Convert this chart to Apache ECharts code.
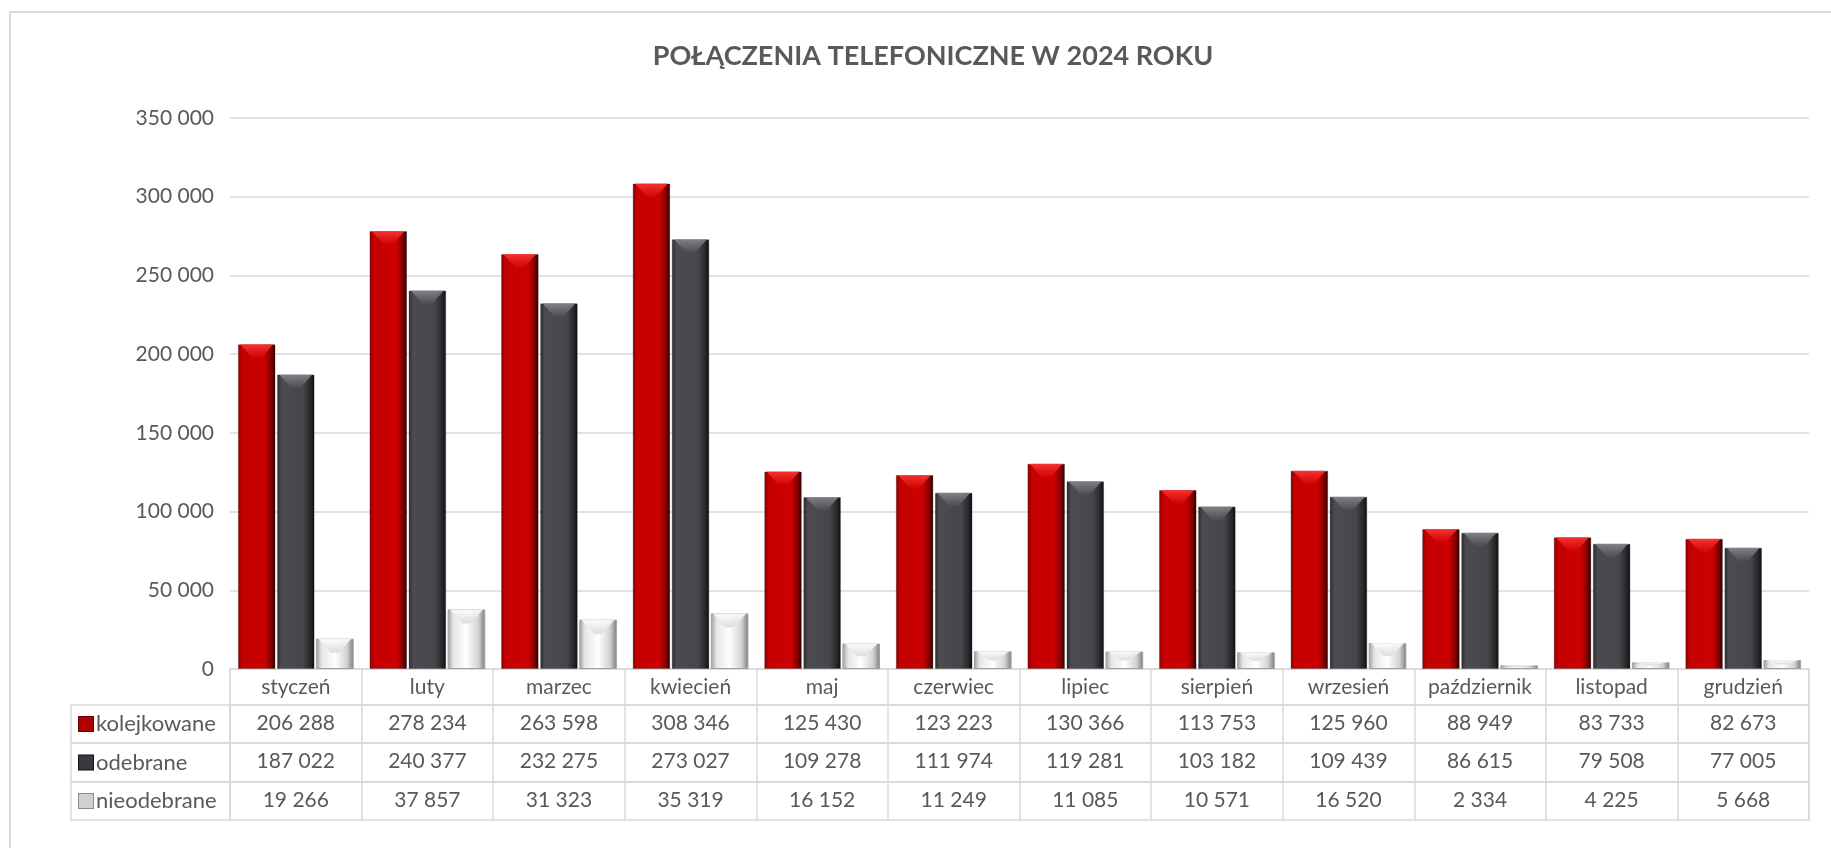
<!DOCTYPE html>
<html>
<head>
<meta charset="utf-8">
<script src="https://cdn.jsdelivr.net/npm/echarts@6/dist/echarts.min.js"></script>
<style>
  html, body { margin: 0; padding: 0; background: #fff; }
  #chart { width: 1831px; height: 848px; }
</style>
</head>
<body>
<div id="chart"></div>
<script>
// dane
const months = ['styczeń', 'luty', 'marzec', 'kwiecień', 'maj', 'czerwiec', 'lipiec', 'sierpień', 'wrzesień', 'październik', 'listopad', 'grudzień'];
const kolejkowane = [206288, 278234, 263598, 308346, 125430, 123223, 130366, 113753, 125960, 88949, 83733, 82673];
const odebrane = [187022, 240377, 232275, 273027, 109278, 111974, 119281, 103182, 109439, 86615, 79508, 77005];
const nieodebrane = [19266, 37857, 31323, 35319, 16152, 11249, 11085, 10571, 16520, 2334, 4225, 5668];
const seriesNames = ['kolejkowane', 'odebrane', 'nieodebrane'];
const yMax = 350000;
const yStep = 50000;

const FONT = 'Lato, "Open Sans", sans-serif';
const TXT = '#595959';
const LINE = '#d9d9d9';

// 206288 -> "206 288"
function fmt(v) {
  return String(v).replace(/\B(?=(\d{3})+(?!\d))/g, ' ');
}

function grad(stops, vertical) {
  return new echarts.graphic.LinearGradient(0, 0, vertical ? 0 : 1, vertical ? 1 : 0,
    stops.map(c => ({ offset: c[0], color: c[1] })));
}

const barColors = [
  grad([[0, '#8e0000'], [0.12, '#c40000'], [0.72, '#cc0000'], [0.9, '#7a0000'], [1, '#2a0000']]),
  grad([[0, '#2a2a2e'], [0.12, '#4b4b50'], [0.7, '#46464b'], [0.9, '#26262a'], [1, '#0e0e0e']]),
  grad([[0, '#9c9c9c'], [0.15, '#e6e6e6'], [0.5, '#ffffff'], [0.82, '#d2d2d2'], [1, '#7c7c7c']])
];
// jaśniejszy skos na górze słupka
const bevelColors = [
  grad([[0, '#ff3a3a'], [1, '#d00000']], true),
  grad([[0, '#8a8a90'], [1, '#4a4a50']], true),
  grad([[0, '#ffffff'], [1, '#d8d8d8']], true)
];
const iconColors = ['#b00000', '#3a3a3e', '#d0d0d0'];
const iconBorders = ['#600000', '#111111', '#8a8a8a'];

const chart = echarts.init(document.getElementById('chart'));

const plotLeft = 230, plotRight = 22, plotTop = 118, plotH = 551;
const rowTop = [705, 743, 782];
const rowH = [38, 39, 38];

const grids = [
  { left: plotLeft, right: plotRight, top: plotTop, height: plotH },
  // wiersz z miesiącami
  { left: plotLeft, right: plotRight, top: 669, height: 36, show: true, borderColor: LINE, borderWidth: 1.5 }
];
const xAxes = [
  {
    gridIndex: 0, type: 'category', data: months,
    axisLine: { show: false }, axisTick: { show: false }, axisLabel: { show: false }
  },
  {
    gridIndex: 1, type: 'category', data: months, position: 'top',
    axisLine: { show: false }, axisTick: { show: false },
    splitLine: { show: true, interval: 0, lineStyle: { color: LINE, width: 1.5 } },
    axisLabel: { interval: 0, inside: true, margin: 8, color: TXT, fontFamily: FONT, fontSize: 21 }
  }
];
const yAxes = [
  {
    gridIndex: 0, type: 'value', min: 0, max: yMax, interval: yStep,
    axisLine: { show: false }, axisTick: { show: false },
    splitLine: { lineStyle: { color: LINE, width: 1.5 } },
    axisLabel: { margin: 16, color: TXT, fontFamily: FONT, fontSize: 21, formatter: v => fmt(v) }
  },
  { gridIndex: 1, type: 'value', show: false }
];

const tableData = [kolejkowane, odebrane, nieodebrane];
tableData.forEach((vals, r) => {
  // komórki z wartościami
  grids.push({ left: plotLeft, right: plotRight, top: rowTop[r], height: rowH[r], show: true, borderColor: LINE, borderWidth: 1.5 });
  let gi = grids.length - 1;
  xAxes.push({
    gridIndex: gi, type: 'category', data: months, position: 'top',
    axisLine: { show: false }, axisTick: { show: false },
    splitLine: { show: true, interval: 0, lineStyle: { color: LINE, width: 1.5 } },
    axisLabel: { interval: 0, inside: true, margin: 8, color: TXT, fontFamily: FONT, fontSize: 21, formatter: (v, i) => fmt(vals[i]) }
  });
  yAxes.push({ gridIndex: gi, type: 'value', show: false });
  // nagłówek wiersza
  grids.push({ left: 71, width: 159, top: rowTop[r], height: rowH[r], show: true, borderColor: LINE, borderWidth: 1.5 });
  gi = grids.length - 1;
  xAxes.push({ gridIndex: gi, type: 'value', show: false });
  yAxes.push({
    gridIndex: gi, type: 'category', data: [seriesNames[r]],
    axisLine: { show: false }, axisTick: { show: false },
    axisLabel: {
      inside: true, margin: 8, align: 'left', color: TXT, fontFamily: FONT, fontSize: 22,
      formatter: v => '{i|}{t|' + v + '}',
      rich: {
        i: { width: 14, height: 14, backgroundColor: iconColors[r], borderColor: iconBorders[r], borderWidth: 1 },
        t: { color: TXT, fontFamily: FONT, fontSize: 22, padding: [0, 0, 0, 3] }
      }
    }
  });
});

const barSeries = tableData.map((d, i) => ({
  name: seriesNames[i],
  type: 'bar',
  xAxisIndex: 0,
  yAxisIndex: 0,
  data: d,
  barGap: '4%',
  barCategoryGap: '12%',
  itemStyle: {
    color: barColors[i],
    borderColor: i === 2 ? '#a0a0a0' : 'rgba(0,0,0,0.25)',
    borderWidth: 1
  }
}));

const bevelSeries = tableData.map((d, i) => ({
  name: seriesNames[i] + '-bevel',
  type: 'pictorialBar',
  xAxisIndex: 0,
  yAxisIndex: 0,
  silent: true,
  z: 3,
  barGap: '4%',
  barCategoryGap: '12%',
  symbol: 'path://M0,0 L10,0 L6.2,8 L3.8,8 Z',
  symbolPosition: 'end',
  symbolRepeat: false,
  data: d.map(v => ({
    value: v,
    symbolSize: ['88%', Math.min(14, v / yMax * plotH * 0.5)]
  })),
  itemStyle: { color: bevelColors[i], opacity: 0.85 }
}));

chart.setOption({
  animation: false,
  backgroundColor: '#fff',
  title: {
    text: 'POŁĄCZENIA TELEFONICZNE W 2024 ROKU',
    left: 928, top: 38, textAlign: 'center',
    textStyle: { color: TXT, fontFamily: FONT, fontWeight: 'bold', fontSize: 27 }
  },
  graphic: [
    { type: 'rect', shape: { x: 10, y: 12, width: 1840, height: 860 }, style: { fill: 'none', stroke: LINE, lineWidth: 2 }, silent: true }
  ],
  grid: grids,
  xAxis: xAxes,
  yAxis: yAxes,
  series: barSeries.concat(bevelSeries)
});
</script>
</body>
</html>
